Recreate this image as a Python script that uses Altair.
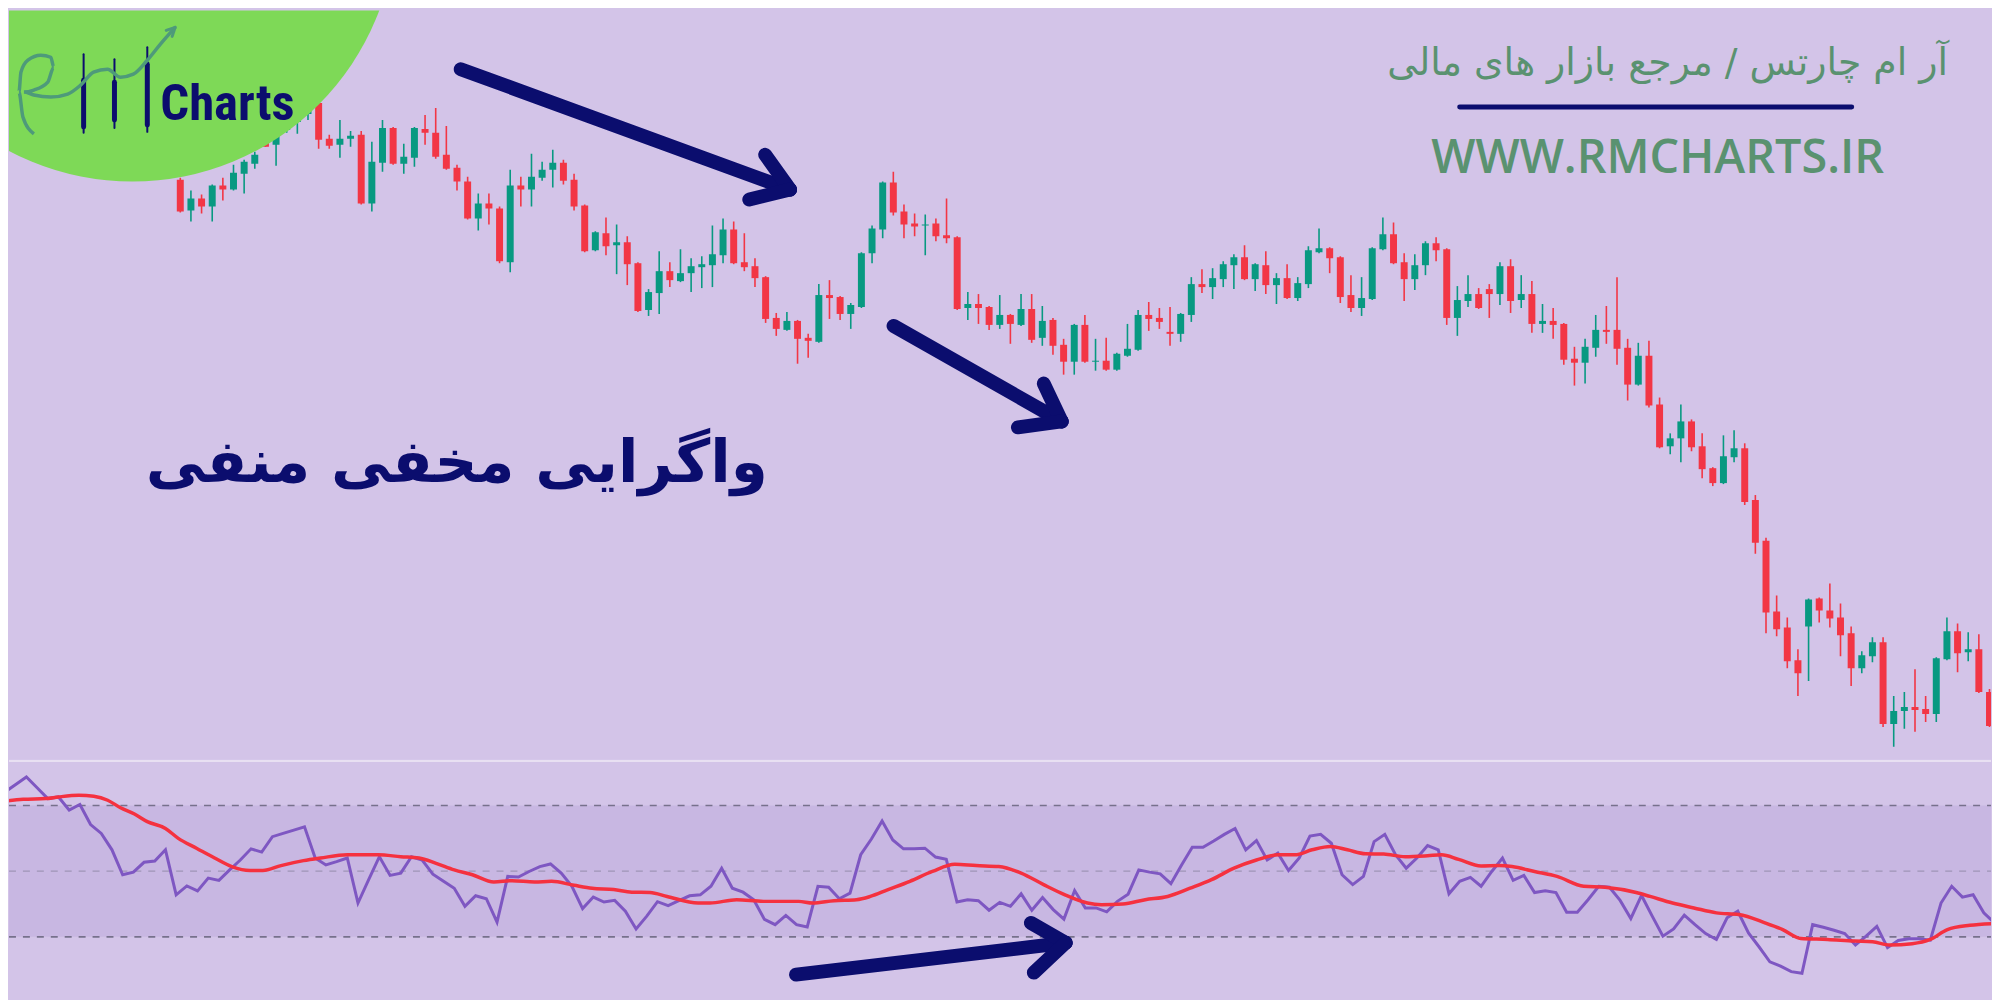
import altair as alt
import pandas as pd

# ---------------- data ----------------
OPEN = [82.2,79.1,80.3,79.5,81.6,81.2,82.8,83.8,86.0,85.7,
        87.2,88.0,88.8,89.9,86.3,85.7,86.3,86.7,79.8,83.9,
        87.4,83.8,84.4,87.3,86.9,84.7,83.4,82.0,78.3,79.8,
        79.3,73.9,81.6,81.2,82.4,83.2,83.9,82.2,79.6,75.1,
        76.8,75.6,75.9,73.8,69.1,70.8,73.0,72.0,72.8,73.4,
        73.6,74.6,77.2,73.9,73.5,72.4,68.3,67.1,68.0,66.3,
        65.9,70.6,70.4,68.7,69.4,74.8,77.2,81.9,79.0,77.8,
        77.6,77.8,76.6,76.4,69.3,69.7,69.4,67.6,68.6,67.6,
        69.2,66.3,68.1,65.6,63.9,67.6,63.9,64.0,63.1,64.5,
        65.1,68.6,68.3,66.9,66.7,68.6,71.7,71.4,72.2,73.6,
        74.4,72.2,73.6,71.6,72.3,70.3,71.7,74.9,75.3,74.4,
        70.6,69.3,70.2,75.2,76.7,73.9,72.2,73.6,75.8,75.2,
        68.3,70.0,70.7,71.2,70.7,73.5,70.1,70.7,67.7,68.0,
        67.7,64.2,63.8,65.3,67.1,67.1,65.3,61.6,64.5,59.6,
        55.4,56.2,57.9,55.4,53.2,51.7,54.3,55.2,50.0,45.9,
        38.8,37.2,33.9,37.3,40.1,38.9,38.2,36.6,33.1,34.3,
        35.7,27.5,28.8,29.2,29.0,28.5,34.0,36.8,34.7,35.0,
        30.7]
HIGH = [82.4,81.1,80.7,81.7,82.4,83.7,84.2,85.0,86.5,88.0,
        88.2,89.0,90.2,90.3,86.7,88.2,87.1,87.1,86.0,88.2,
        87.5,85.8,87.5,88.7,89.4,87.6,83.7,82.5,80.8,80.8,
        79.5,83.2,82.5,84.8,84.0,85.2,84.2,82.8,79.7,77.0,
        78.4,77.7,76.5,73.9,71.2,75.0,73.9,75.2,74.3,74.5,
        77.6,78.3,78.0,76.8,74.3,72.5,68.8,68.9,68.1,66.7,
        71.7,72.1,70.5,69.8,74.9,77.6,82.0,83.0,79.7,78.8,
        78.7,78.3,80.3,76.5,70.9,70.7,69.5,70.6,68.7,70.7,
        70.7,69.5,68.3,66.2,67.7,68.6,66.2,66.3,64.8,67.7,
        69.1,69.9,69.3,69.4,68.8,72.4,73.2,73.3,74.0,74.7,
        75.6,73.8,75.0,72.8,73.7,72.4,75.5,77.3,75.4,74.5,
        72.6,72.4,75.4,78.4,77.9,74.8,74.7,76.0,76.4,75.3,
        71.5,72.6,71.3,71.7,73.9,74.2,72.6,72.0,69.7,69.3,
        67.8,65.4,66.2,68.6,69.5,72.4,66.2,65.8,66.0,60.3,
        56.7,59.6,58.1,56.7,53.3,56.5,57.0,55.7,50.5,46.2,
        40.4,38.2,35.0,40.1,40.2,41.6,39.6,37.3,34.8,36.2,
        36.2,30.3,30.7,33.0,30.3,34.2,38.2,37.6,36.7,36.5,
        31.0]
LOW = [78.9,78.0,78.8,78.0,80.1,81.1,80.8,83.3,85.5,83.6,
       86.9,86.8,88.2,85.3,85.3,84.4,85.5,79.7,79.0,83.0,
       83.7,82.8,83.5,85.7,84.3,83.2,81.1,78.2,77.1,77.7,
       73.8,72.9,79.5,79.5,82.1,81.4,81.7,79.1,74.9,75.0,
       74.6,72.7,71.6,68.9,68.5,68.7,71.4,71.9,70.9,71.3,
       71.4,73.8,73.7,73.0,71.4,67.8,66.5,67.0,63.7,64.3,
       65.8,68.2,68.1,67.2,69.3,73.8,76.3,78.6,76.3,76.5,
       74.6,76.0,75.8,69.1,68.1,67.7,67.1,67.2,65.7,67.5,
       65.8,65.5,64.6,62.6,62.6,63.8,63.0,63.0,63.0,64.4,
       65.0,67.0,67.2,65.5,65.9,67.9,70.8,70.2,71.4,71.2,
       72.1,71.0,70.7,69.7,70.2,70.0,71.3,74.8,72.8,69.8,
       68.9,68.5,70.1,75.1,73.7,70.0,71.1,72.6,74.0,67.6,
       66.5,69.4,69.2,68.3,69.6,68.8,69.3,66.8,66.8,66.2,
       63.6,61.5,61.7,64.4,65.7,63.6,60.0,61.5,59.3,55.2,
       54.6,53.8,54.9,52.2,51.4,51.6,53.8,49.5,44.6,36.6,
       36.3,33.1,30.3,31.8,37.7,37.2,34.3,31.3,32.6,33.7,
       27.2,25.2,27.0,26.7,27.7,27.7,33.9,32.7,33.8,30.6,
       27.2]
CLOSE = [79.0,80.3,79.5,81.6,81.2,82.9,84.0,84.7,85.5,87.5,
         87.8,88.6,89.7,86.2,85.6,86.3,86.6,79.8,84.0,87.4,
         83.8,84.5,87.4,86.9,84.5,83.3,82.0,78.3,79.8,79.3,
         74.0,81.6,81.2,82.5,83.2,83.9,82.1,79.5,75.0,76.9,
         75.5,75.9,73.7,69.0,70.9,73.0,72.1,72.8,73.5,73.7,
         74.7,77.2,73.8,73.4,72.3,68.2,67.2,68.0,66.2,66.0,
         70.6,70.3,68.7,69.6,74.8,77.3,81.9,78.9,77.7,77.5,
         77.7,76.5,76.3,69.2,69.7,69.3,67.6,68.6,67.7,69.2,
         66.1,68.0,65.5,63.9,67.6,63.9,64.0,63.1,64.7,65.2,
         68.6,68.2,67.9,66.7,68.7,71.7,71.4,72.3,73.7,74.4,
         72.2,73.7,71.6,72.3,70.3,71.8,75.1,75.3,74.3,70.4,
         69.3,70.3,75.3,76.7,73.8,72.2,73.6,75.8,75.1,68.3,
         70.1,70.7,69.3,70.7,73.5,70.0,70.7,67.7,68.0,67.6,
         64.1,63.8,65.4,67.1,66.9,65.2,61.6,64.5,59.5,55.3,
         56.2,57.9,55.3,53.1,51.7,54.4,55.2,49.8,45.7,38.7,
         37.0,33.8,32.6,40.0,38.9,38.1,36.4,33.1,34.4,35.7,
         27.5,28.8,29.2,28.9,28.5,34.1,36.8,34.6,35.0,30.7,
         27.3]

RSI_START = -16
RSI = [74.1,76.4,78.7,75.4,72.1,72.6,68.6,70.3,64.2,61.5,56.5,48.9,49.7,52.7,53.1,56.5,
       42.8,45.5,44.0,47.9,47.2,50.4,53.4,56.8,55.8,60.5,
       61.5,62.5,63.5,54.0,51.9,52.9,54.0,40.3,47.4,54.4,
       48.7,49.4,54.4,53.4,49.1,46.9,44.8,39.3,42.5,41.6,
       34.5,48.4,48.2,49.9,51.4,52.2,49.4,45.4,38.6,42.1,
       40.6,41.1,37.8,32.4,36.3,40.7,39.5,41.0,42.5,42.8,
       45.4,50.9,44.8,43.6,41.3,35.3,33.7,36.5,33.7,33.0,
       45.4,45.1,41.6,43.3,55.0,59.8,65.3,59.5,56.8,56.8,
       57.0,54.3,53.6,40.6,41.3,41.0,38.1,40.5,39.3,43.1,
       38.1,42.0,38.3,35.4,44.1,38.8,38.8,37.6,40.8,43.0,
       50.4,49.7,49.2,46.2,51.9,57.3,57.3,59.2,61.2,63.0,
       56.5,59.3,53.4,55.5,50.2,54.0,60.7,61.2,58.5,48.9,
       45.9,48.4,59.0,61.2,55.0,50.9,54.0,57.8,56.5,43.1,
       46.9,48.1,45.4,49.9,54.0,47.2,48.7,43.5,44.0,43.5,
       37.5,37.5,41.3,45.4,45.1,41.1,35.6,42.6,36.3,30.2,
       32.4,36.6,33.7,31.0,29.2,35.8,37.8,31.2,26.9,22.4,
       21.1,19.4,18.9,33.7,32.9,32.0,31.0,27.5,30.2,33.2,
       26.7,28.9,29.4,29.4,29.0,40.3,45.4,42.1,42.8,37.3,
       34.2]

MA_X = [-16.4,-14.3,-12.2,-11.0,-9.1,-7.7,-6.4,-5.2,-3.9,-2.7,
        -1.0,0.2,1.9,3.6,5.2,6.9,8.1,9.8,11.9,13.5,
        16.0,18.9,21.0,22.7,24.3,26.0,27.7,29.7,31.4,33.5,
        35.1,37.2,38.9,40.9,42.6,44.3,45.9,48.8,
        49.9,52.4,54.9,56.6,58.2,59.5,61.5,63.6,64.9,66.5,
        68.6,70.7,72.8,74.8,76.9,79.0,81.1,83.1,85.2,86.5,
        88.5,90.6,92.7,94.8,96.8,98.9,101.0,103.1,
        104.6,106.2,107.9,109.5,111.2,112.9,114.9,117.0,118.3,119.9,
        122.0,123.7,124.9,127.0,129.1,131.6,133.6,136.5,137.8,139.9,
        141.9,144.0,146.1,148.6,150.2,151.9,154.4,156.9,158.6,160.2,
        162.3,164.0,165.6,167.7,169.7]
MA_V = [71.1,71.9,72.1,72.6,73.1,72.8,71.6,69.3,67.4,65.1,
        63.0,60.0,57.0,54.0,51.4,50.2,50.2,51.7,53.2,54.0,
        55.0,55.0,54.4,54.0,52.4,50.4,48.9,46.7,47.1,46.7,
        46.9,45.7,44.8,44.4,43.6,43.5,42.3,40.3,
        40.3,41.3,40.8,40.8,40.8,40.3,41.0,41.3,42.3,44.3,
        46.9,49.9,52.1,51.7,51.4,49.4,45.9,42.8,40.3,39.8,
        40.0,41.3,42.3,44.8,47.4,50.9,53.4,55.0,
        55.0,56.5,57.5,56.5,55.3,55.2,54.4,54.7,55.0,53.6,
        51.6,51.7,51.4,49.9,48.4,45.4,45.1,43.5,42.3,40.3,
        38.8,37.3,36.8,34.2,32.2,29.5,29.2,28.7,28.5,27.5,
        27.9,29.2,32.2,33.5,34.0]

LEVELS = [70, 50, 30]

TITLE = "واگرایی مخفی منفی"
BRAND_FA = "آر ام چارتس / مرجع بازار های مالی"
BRAND_URL = "WWW.RMCHARTS.IR"
LOGO_TEXT = "Charts"

# ---------------- styling ----------------
W = 1992
H_TOP = 753
H_BOT = 239
BG = "#D3C4E8"
BAND = "#C8B7E2"
RED = "#F23645"
GREEN = "#089981"
NAVY = "#0B0D6E"
TGREEN = "#5A9270"
LIME = "#7ED957"
PURPLE = "#7E57C2"
MA_RED = "#F5313F"
SCRIPT = "#4E9A7A"

X_DOMAIN = [-168 / 10.75, (W - 168) / 10.75]
xs = alt.Scale(domain=X_DOMAIN, nice=False, zero=False)
ys = alt.Scale(domain=[23.9, 99.2], nice=False, zero=False)
rs = alt.Scale(domain=[11.52, 83.94], nice=False, zero=False)

n = len(OPEN)
cdf = pd.DataFrame({
    "i": list(range(n)), "open": OPEN, "high": HIGH, "low": LOW, "close": CLOSE,
})
cdf["dir"] = ["up" if c >= o else "down" for o, c in zip(OPEN, CLOSE)]

col = alt.Color("dir:N", scale=alt.Scale(domain=["up", "down"], range=[GREEN, RED]), legend=None)
xenc = alt.X("i:Q", scale=xs, axis=None)

wicks = alt.Chart(cdf).mark_rule(strokeWidth=1.6, clip=True).encode(
    x=xenc, y=alt.Y("low:Q", scale=ys, axis=None), y2="high:Q", color=col)
bodies = alt.Chart(cdf).mark_bar(size=7, clip=True).encode(
    x=xenc, y=alt.Y("open:Q", scale=ys, axis=None), y2="close:Q", color=col)

one = pd.DataFrame({"k": [0]})


def seg(x1, y1, x2, y2, color=NAVY, w=14):
    return alt.Chart(one).mark_rule(color=color, strokeWidth=w, strokeCap="round", clip=True).encode(
        x=alt.value(x1), y=alt.value(y1), x2=alt.value(x2), y2=alt.value(y2))


def txt(s, x, y, size, color, font, weight="normal", align="center"):
    return alt.Chart(pd.DataFrame({"t": [s]})).mark_text(
        fontSize=size, color=color, font=font, fontWeight=weight, align=align,
        baseline="alphabetic").encode(text="t:N", x=alt.value(x), y=alt.value(y))


arrows_top = [
    seg(454, 59, 785, 180), seg(785, 180, 760, 145), seg(785, 180, 744, 190),
    seg(889, 317, 1058, 413), seg(1058, 413, 1040, 375), seg(1058, 413, 1014, 419),
]

circle = alt.Chart(one).mark_point(filled=True, shape="circle", size=530 * 530,
                                   color=LIME, opacity=1, clip=True).encode(
    x=alt.value(124), y=alt.value(-93))

logo_candles = [
    seg(75, 44, 75, 123, NAVY, 2), seg(75, 70, 75, 117, NAVY, 5),
    seg(106, 49, 106, 118, NAVY, 2), seg(106, 72, 106, 110, NAVY, 5),
    seg(139, 37, 139, 122, NAVY, 2), seg(139, 54, 139, 115, NAVY, 5),
]

script = pd.DataFrame({
    "px": [25, 14, 10, 12, 19, 32, 42, 45, 39, 25, 15, 25, 42, 59, 72, 85, 99, 112, 125, 139, 152, 167],
    "py": [124, 107, 82, 62, 50, 45, 47, 57, 72, 80, 82, 85, 87, 84, 75, 62, 59, 67, 64, 50, 34, 17],
    "o": list(range(22)),
})
script_line = alt.Chart(script).mark_line(color=SCRIPT, strokeWidth=3.5,
                                          interpolate="monotone", clip=True).encode(
    x=alt.X("px:Q", scale=None), y=alt.Y("py:Q", scale=None), order="o:Q")
script_head = [seg(167, 17, 158, 20, SCRIPT, 3), seg(167, 17, 164, 26, SCRIPT, 3)]

top = alt.layer(
    wicks, bodies, *arrows_top,
    txt(TITLE, 450, 474, 60, NAVY, "DejaVu Sans", "bold"),
    txt(BRAND_FA, 1667, 65, 38, TGREEN, "DejaVu Sans"),
    seg(1458, 97, 1852, 97, NAVY, 5),
    txt(BRAND_URL, 1657, 163, 47, TGREEN, "Open Sans", 600),
    circle, *logo_candles, script_line, *script_head,
    txt(LOGO_TEXT, 152, 110, 51, NAVY,
        "Roboto Condensed, Liberation Sans Narrow, Arial Narrow, Liberation Sans, sans-serif",
        "bold", "left"),
).properties(width=W, height=H_TOP)

# ---------------- RSI panel ----------------
rdf = pd.DataFrame({"i": [RSI_START + k for k in range(len(RSI))], "rsi": RSI})
mdf = pd.DataFrame({"i": MA_X, "ma": MA_V})
band = alt.Chart(pd.DataFrame({"hi": [LEVELS[0]], "lo": [LEVELS[2]]})).mark_rect(color=BAND).encode(
    x=alt.value(0), x2=alt.value(W), y=alt.Y("hi:Q", scale=rs, axis=None), y2="lo:Q")
outer = alt.Chart(pd.DataFrame({"lv": [LEVELS[0], LEVELS[2]]})).mark_rule(
    color="#77718C", strokeWidth=1.6, strokeDash=[7, 7]).encode(
    x=alt.value(0), x2=alt.value(W), y=alt.Y("lv:Q", scale=rs, axis=None))
mid = alt.Chart(pd.DataFrame({"lv": [LEVELS[1]]})).mark_rule(
    color="#9E95B6", strokeWidth=1.3, strokeDash=[7, 7]).encode(
    x=alt.value(0), x2=alt.value(W), y=alt.Y("lv:Q", scale=rs, axis=None))
rsi_line = alt.Chart(rdf).mark_line(color=PURPLE, strokeWidth=3, clip=True).encode(
    x=alt.X("i:Q", scale=xs, axis=None), y=alt.Y("rsi:Q", scale=rs, axis=None))
ma_line = alt.Chart(mdf).mark_line(color=MA_RED, strokeWidth=3.5, interpolate="monotone",
                                   clip=True).encode(
    x=alt.X("i:Q", scale=xs, axis=None), y=alt.Y("ma:Q", scale=rs, axis=None))
sep = alt.Chart(one).mark_rule(color="#E8E0F2", strokeWidth=2.5, clip=True).encode(
    x=alt.value(0), x2=alt.value(W), y=alt.value(1), y2=alt.value(1))
arrows_bot = [seg(791, 216, 1062, 184), seg(1062, 184, 1027, 164), seg(1062, 184, 1030, 214)]

bottom = alt.layer(band, outer, mid, rsi_line, ma_line, sep, *arrows_bot).properties(
    width=W, height=H_BOT)

chart = alt.vconcat(top, bottom).resolve_scale(x="independent", y="independent").properties(
    background=BG, padding=0
).configure_view(stroke=None).configure_concat(spacing=0)

chart.save("out.html", embed_options={"renderer": "svg", "actions": False})
